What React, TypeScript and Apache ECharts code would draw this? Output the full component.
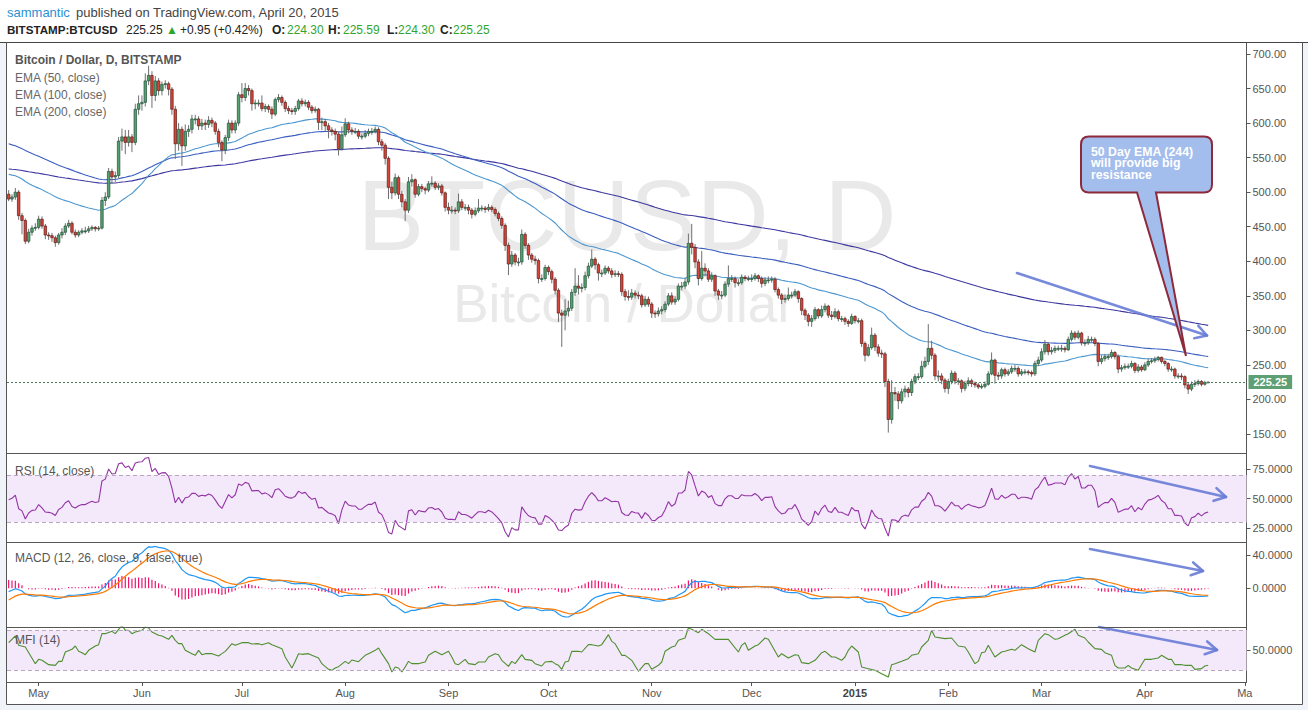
import React, { useEffect, useRef } from "react";
import * as echarts from "echarts";

const FONT = '"Liberation Sans", Arial, Helvetica, sans-serif';

// ---------- categories ----------
const startDate = "2014-04-22";
const endDate = "2015-04-20";
const missingDates = ["2015-01-06", "2015-01-07", "2015-01-08"];
const futureBars = 11;

// ---------- price data (BITSTAMP:BTCUSD, daily) ----------
const firstOpen = 497;
const closes = [
  490, 493, 500, 466, 459, 429, 442, 448, 449, 461,
  451, 438, 437, 434, 427, 438, 442, 451, 455, 442,
  438, 442, 444, 444, 447, 449, 447, 448, 488, 493,
  530, 522, 524, 574, 580, 572, 580, 572, 620, 628,
  630, 661, 669, 640, 661, 647, 656, 657, 649, 620,
  570, 591, 567, 588, 591, 606, 606, 596, 600, 598,
  604, 600, 588, 572, 561, 579, 600, 590, 600, 641,
  637, 650, 647, 628, 629, 629, 621, 624, 620, 613,
  634, 637, 630, 621, 618, 617, 621, 632, 628, 630,
  623, 618, 620, 601, 602, 596, 590, 588, 584, 563,
  583, 599, 590, 588, 588, 581, 581, 585, 588, 588,
  591, 573, 568, 549, 507, 499, 521, 497, 486, 474,
  515, 518, 497, 508, 505, 503, 512, 513, 507, 509,
  499, 478, 474, 474, 473, 486, 478, 478, 474, 468,
  473, 477, 477, 475, 478, 475, 469, 462, 452, 423,
  396, 409, 399, 399, 439, 423, 409, 403, 401, 375,
  375, 391, 385, 374, 358, 325, 322, 328, 332, 355,
  364, 361, 362, 379, 393, 403, 395, 383, 383, 390,
  386, 381, 382, 381, 356, 349, 348, 354, 351, 350,
  337, 345, 338, 325, 324, 328, 330, 338, 350, 341,
  345, 364, 364, 370, 426, 420, 399, 375, 390, 386,
  374, 379, 357, 351, 351, 367, 375, 375, 369, 369,
  377, 375, 375, 375, 379, 375, 368, 373, 373, 374,
  359, 351, 345, 346, 351, 351, 356, 346, 329, 322,
  313, 317, 330, 321, 330, 335, 322, 320, 327, 317,
  317, 313, 310, 320, 314, 314, 281, 264, 275, 293,
  276, 267, 266, 226, 171, 210, 208, 198, 211, 215,
  210, 226, 233, 233, 248, 255, 274, 264, 234, 234,
  228, 216, 226, 238, 227, 227, 216, 223, 227, 223,
  221, 218, 219, 222, 237, 257, 235, 234, 243, 237,
  240, 245, 245, 237, 240, 240, 239, 237, 252, 257,
  269, 280, 269, 271, 274, 274, 274, 272, 287, 296,
  290, 296, 282, 282, 287, 287, 281, 255, 259, 262,
  262, 268, 262, 244, 246, 248, 248, 252, 242, 247,
  243, 250, 255, 256, 258, 261, 255, 252, 244, 244,
  234, 234, 233, 221, 215, 222, 223, 226, 222, 224.3, 225.25,
];
const highs = [
  503, 497, 506, 503, 470, 462, 447, 452, 455, 466,
  465, 454, 442, 441, 437, 441, 448, 455, 460, 458,
  446, 445, 448, 450, 451, 452, 451, 451, 493, 500,
  535, 534, 530, 580, 592, 590, 590, 584, 628, 640,
  640, 672, 683, 675, 668, 665, 660, 662, 660, 652,
  625, 600, 595, 598, 597, 612, 612, 610, 606, 605,
  610, 608, 603, 592, 575, 583, 605, 604, 604, 645,
  658, 658, 655, 650, 634, 634, 640, 628, 627, 624,
  637, 642, 640, 633, 625, 622, 625, 635, 636, 634,
  633, 626, 624, 622, 608, 606, 600, 594, 592, 587,
  595, 607, 602, 594, 593, 591, 585, 590, 592, 593,
  595, 594, 577, 571, 552, 515, 527, 524, 502, 490,
  522, 526, 520, 512, 512, 508, 516, 523, 516, 513,
  512, 501, 485, 480, 478, 498, 490, 483, 482, 477,
  478, 490, 481, 480, 483, 481, 478, 472, 465, 455,
  427, 415, 412, 405, 446, 442, 426, 412, 408, 404,
  381, 395, 394, 388, 377, 361, 330, 345, 343, 360,
  390, 380, 368, 385, 398, 417, 406, 398, 388, 394,
  393, 390, 387, 386, 384, 360, 358, 360, 358, 356,
  353, 350, 349, 341, 329, 333, 335, 342, 354, 355,
  350, 368, 370, 376, 440, 454, 425, 403, 415, 397,
  390, 384, 381, 360, 357, 371, 394, 380, 378, 374,
  381, 380, 379, 381, 383, 381, 378, 377, 378, 378,
  377, 362, 354, 352, 362, 356, 360, 358, 348, 332,
  325, 322, 334, 332, 336, 339, 337, 328, 332, 330,
  321, 320, 316, 324, 322, 318, 317, 284, 280, 304,
  296, 280, 272, 269, 230, 228, 218, 212, 216, 220,
  218, 230, 237, 238, 256, 262, 309, 285, 267, 242,
  238, 231, 230, 242, 241, 231, 229, 227, 232, 230,
  226, 224, 223, 226, 241, 268, 259, 240, 246, 246,
  244, 249, 250, 248, 244, 244, 243, 242, 256, 262,
  274, 286, 283, 276, 278, 278, 279, 277, 291, 300,
  299, 300, 298, 287, 292, 291, 290, 283, 264, 266,
  266, 272, 270, 265, 250, 252, 252, 256, 254, 251,
  250, 254, 259, 260, 262, 263, 262, 257, 254, 248,
  246, 238, 238, 235, 224, 226, 228, 229, 228, 227, 225.59,
];
const lows = [
  487, 486, 489, 460, 439, 425, 426, 437, 444, 446,
  447, 432, 431, 428, 421, 424, 433, 438, 448, 439,
  434, 435, 439, 440, 441, 444, 443, 444, 446, 480,
  490, 512, 515, 520, 560, 555, 566, 558, 568, 612,
  618, 624, 655, 622, 632, 640, 640, 650, 640, 612,
  548, 560, 538, 560, 580, 585, 598, 590, 590, 590,
  593, 594, 583, 565, 545, 555, 574, 585, 585, 596,
  630, 632, 640, 618, 620, 624, 617, 616, 615, 606,
  610, 630, 625, 616, 613, 612, 612, 618, 624, 624,
  619, 614, 615, 590, 590, 588, 578, 582, 575, 553,
  560, 580, 585, 583, 584, 577, 576, 578, 581, 583,
  585, 568, 560, 540, 490, 490, 495, 490, 478, 458,
  470, 508, 492, 494, 500, 497, 500, 508, 503, 503,
  495, 472, 468, 469, 468, 470, 474, 473, 468, 462,
  465, 470, 472, 470, 472, 471, 465, 458, 447, 415,
  380, 392, 394, 393, 395, 418, 402, 398, 395, 368,
  370, 372, 380, 368, 352, 312, 276, 300, 320, 328,
  350, 352, 355, 358, 375, 390, 388, 372, 377, 380,
  382, 376, 377, 377, 350, 343, 343, 344, 346, 345,
  333, 334, 334, 318, 318, 320, 323, 326, 335, 337,
  337, 342, 358, 360, 366, 410, 390, 365, 372, 378,
  370, 370, 350, 344, 345, 348, 363, 370, 362, 364,
  366, 371, 371, 370, 372, 370, 362, 364, 368, 369,
  355, 346, 338, 340, 343, 346, 348, 340, 322, 315,
  306, 305, 314, 317, 318, 326, 318, 315, 317, 313,
  312, 308, 305, 308, 310, 310, 276, 255, 262, 272,
  270, 262, 260, 218, 152, 165, 198, 186, 194, 203,
  203, 205, 222, 228, 230, 245, 250, 258, 228, 226,
  222, 210, 208, 222, 222, 221, 210, 212, 219, 218,
  217, 215, 215, 216, 220, 235, 223, 228, 230, 233,
  234, 237, 240, 233, 234, 236, 235, 233, 234, 248,
  254, 265, 264, 265, 267, 270, 269, 268, 270, 284,
  286, 287, 278, 277, 279, 283, 277, 248, 251, 255,
  257, 259, 258, 238, 240, 243, 244, 245, 238, 239,
  240, 241, 247, 252, 253, 255, 252, 248, 240, 240,
  230, 230, 228, 216, 208, 212, 218, 220, 219, 220, 224.3,
];

// MFI (14): [bar index, value]
const mfiSamples = [
  [0, 61.5], [2, 71.5], [3, 57.5], [5, 55], [8, 30], [9, 36.5], [10, 35], [12, 28.5], [14, 27.5], [15, 33.5],
  [16, 33.5], [17, 47.5], [19, 51.5], [20, 56.5], [21, 48.5], [22, 46.5], [23, 43.5], [24, 50], [26, 56.5], [27, 58.5],
  [28, 75], [29, 75], [31, 78.5], [32, 75], [33, 81.5], [34, 87.5], [35, 80], [36, 80], [37, 75], [38, 77.5],
  [40, 80], [41, 85], [42, 83.5], [43, 77.5], [45, 72.5], [46, 71.5], [48, 66.5], [49, 72.5], [50, 65], [51, 60],
  [52, 60], [53, 50], [55, 45], [56, 42.5], [57, 50], [58, 43.5], [59, 45], [61, 45], [63, 41.5], [64, 45],
  [65, 48.5], [66, 54], [67, 60], [68, 57.5], [70, 61.5], [72, 61.5], [73, 59.5], [75, 60], [76, 58.5], [78, 61.5],
  [79, 58.5], [80, 56.5], [82, 52.5], [83, 40], [85, 23.5], [86, 33.5], [87, 45], [88, 44], [90, 45], [91, 42.5],
  [93, 38.5], [94, 30], [96, 21.5], [97, 20], [98, 23.5], [99, 25.5], [101, 33.5], [102, 30], [103, 35.5], [105, 33],
  [107, 42.5], [108, 45], [110, 50], [111, 53.5], [112, 45], [114, 30], [115, 17.5], [116, 25], [117, 23.5], [118, 17.5],
  [119, 25], [120, 33.5], [121, 30], [123, 30], [124, 31.5], [125, 32.5], [126, 42.5], [128, 48.5], [130, 43.5], [132, 48.5],
  [133, 40], [134, 30], [135, 28.5], [137, 36.5], [138, 30], [140, 28.5], [141, 32.5], [143, 32.5], [144, 40], [146, 45],
  [147, 43.5], [148, 35], [150, 26], [151, 33.5], [152, 30], [154, 43.5], [155, 36.5], [157, 35], [158, 30], [160, 26.5],
  [161, 32.5], [163, 33.5], [164, 30], [165, 27.5], [166, 21.5], [167, 32.5], [168, 33.5], [169, 48.5], [171, 48.5], [172, 47.5],
  [174, 58.5], [175, 58.5], [177, 56.5], [178, 58.5], [180, 73.5], [181, 63.5], [182, 60], [184, 42.5], [185, 42.5], [187, 35],
  [189, 18.5], [191, 30], [192, 30], [193, 21.5], [195, 27.5], [196, 32.5], [197, 48.5], [199, 55], [200, 56.5], [201, 65],
  [203, 68.5], [204, 83.5], [205, 81.5], [207, 76.5], [208, 81.5], [210, 75], [212, 66.5], [214, 66.5], [216, 66.5], [219, 47.5],
  [220, 57.5], [221, 61.5], [222, 50], [224, 56.5], [225, 58.5], [227, 68.5], [228, 66.5], [231, 40], [232, 45], [234, 38.5],
  [236, 43.5], [237, 42.5], [238, 31.5], [240, 30], [242, 35], [244, 46.5], [245, 48.5], [247, 40], [248, 40], [250, 35],
  [251, 40], [252, 50], [253, 56.5], [255, 47.5], [256, 25], [258, 22.5], [260, 20], [262, 15], [264, 10], [265, 28.5],
  [266, 30], [268, 33.5], [270, 37.5], [271, 42.5], [273, 45], [274, 55], [276, 65], [277, 80], [278, 70], [281, 67.5],
  [283, 68.5], [285, 56.5], [287, 55], [288, 47.5], [290, 30], [291, 33.5], [292, 46.5], [293, 47.5], [294, 57.5], [295, 48.5],
  [296, 40], [298, 47.5], [299, 48.5], [301, 51.5], [302, 50], [304, 58.5], [306, 52.5], [308, 47.5], [309, 65], [311, 75],
  [312, 73.5], [314, 66.5], [315, 67.5], [317, 72.5], [318, 75], [320, 81.5], [321, 72.5], [323, 68.5], [324, 62.5], [326, 52.5],
  [328, 51.5], [329, 46.5], [331, 42.5], [332, 27.5], [333, 23.5], [335, 23.5], [336, 27.5], [337, 23.5], [339, 20], [340, 28.5],
  [341, 36.5], [343, 36.5], [345, 38.5], [346, 42.5], [348, 36.5], [349, 36.5], [350, 28.5], [352, 28.5], [353, 27.5], [355, 27.5],
  [356, 21.5], [358, 22.5], [359, 26.5], [360, 27.5],
];

// indicator starting states at the first bar
const ema50Seed = 526;
const ema100Seed = 570;
const ema200Seed = 533.6;
const rsiSeedGain = 5;
const rsiSeedLoss = 5.2;
const macdFastSeed = 476;
const macdSlowSeed = 480;
const macdSignalSeed = -14;

// ---------- ticks ----------
const monthTicks = [
  ["2014-05-01", "May"], ["2014-06-01", "Jun"], ["2014-07-01", "Jul"], ["2014-08-01", "Aug"],
  ["2014-09-01", "Sep"], ["2014-10-01", "Oct"], ["2014-11-01", "Nov"], ["2014-12-01", "Dec"],
  ["2015-01-01", "2015"], ["2015-02-01", "Feb"], ["2015-03-01", "Mar"], ["2015-04-01", "Apr"],
  ["2015-05-01", "Ma"],
];
const priceTicks = [150, 200, 250, 300, 350, 400, 450, 500, 550, 600, 650, 700];
const rsiTicks = [25, 50, 75];
const macdTicks = [0, 40];
const mfiTicks = [50];

// ---------- annotations (drawings, page pixels) ----------
const trendArrows = [
  { from: [1017, 273], to: [1207, 335.5] },
  { from: [1090, 466], to: [1226, 497] },
  { from: [1090, 549], to: [1203, 571] },
  { from: [1099, 627], to: [1217, 650] },
];
const calloutLines = ["50 Day EMA (244)", "will provide big", "resistance"];
const calloutPath =
  "M1089 136.5 L1204 136.5 Q1212 136.5 1212 144.5 L1212 184.5 Q1212 192.5 1204 192.5 L1156 192.5 L1186 356 L1137 192.5 L1089 192.5 Q1081 192.5 1081 184.5 L1081 144.5 Q1081 136.5 1089 136.5 Z";
echarts.graphic.registerShape("callout", echarts.graphic.extendPath(calloutPath, {}));

// ---------- helpers ----------
function buildDates() {
  const out: string[] = [];
  const d = new Date(startDate + "T00:00:00Z");
  const end = new Date(endDate + "T00:00:00Z").getTime();
  while (d.getTime() <= end) {
    const s = d.toISOString().slice(0, 10);
    if (missingDates.indexOf(s) < 0) out.push(s);
    d.setUTCDate(d.getUTCDate() + 1);
  }
  for (let i = 0; i < futureBars; i++) {
    d.setUTCDate(d.getUTCDate() + (i === 0 ? 0 : 1));
    out.push(d.toISOString().slice(0, 10));
  }
  return out;
}

function ema(values: number[], period: number, seed: number) {
  const k = 2 / (period + 1);
  const out: number[] = [];
  let e = seed;
  values.forEach((v, i) => {
    if (i > 0) e = v * k + e * (1 - k);
    out.push(+e.toFixed(3));
  });
  return out;
}

function rsi(values: number[]) {
  let ag = rsiSeedGain;
  let al = rsiSeedLoss;
  const out = [100 - 100 / (1 + ag / al)];
  for (let i = 1; i < values.length; i++) {
    const ch = values[i] - values[i - 1];
    ag = (ag * 13 + Math.max(ch, 0)) / 14;
    al = (al * 13 + Math.max(-ch, 0)) / 14;
    out.push(al === 0 ? 100 : 100 - 100 / (1 + ag / al));
  }
  return out.map((v) => +v.toFixed(2));
}

function arrowElements(a: any) {
  const [x1, y1] = a.from;
  const [x2, y2] = a.to;
  const ang = Math.atan2(y2 - y1, x2 - x1);
  const len = 13;
  const spread = (30 * Math.PI) / 180;
  const p1 = [x2 - len * Math.cos(ang - spread), y2 - len * Math.sin(ang - spread)];
  const p2 = [x2 - len * Math.cos(ang + spread), y2 - len * Math.sin(ang + spread)];
  const style = { stroke: "rgba(104,124,214,0.9)", lineWidth: 2.6, lineCap: "round", lineJoin: "round", fill: null };
  return [
    { type: "line", z: 80, shape: { x1, y1, x2, y2 }, style },
    { type: "polyline", z: 80, shape: { points: [p1, [x2, y2], p2] }, style },
  ];
}

function text(x: number, y: number, t: string, extra: any = {}) {
  return {
    type: "text",
    x,
    y,
    z: 90,
    style: {
      text: t,
      fontFamily: FONT,
      fontSize: 12,
      fill: "#555",
      verticalAlign: "middle",
      align: "left",
      ...extra,
    },
  };
}

function buildOption() {
  const cats = buildDates();
  const n = closes.length;
  const opens = closes.map((c, i) => (i === 0 ? firstOpen : closes[i - 1]));
  const candleData = closes.map((c, i) => [i, opens[i], c, lows[i], highs[i]]);
  const e50 = ema(closes, 50, ema50Seed);
  const e100 = ema(closes, 100, ema100Seed);
  const e200 = ema(closes, 200, ema200Seed);
  const rsiVals = rsi(closes);
  const fast = ema(closes, 12, macdFastSeed);
  const slow = ema(closes, 26, macdSlowSeed);
  const macd = fast.map((f, i) => +(f - slow[i]).toFixed(3));
  const signal = ema(macd, 9, macdSignalSeed);
  const hist = macd.map((m, i) => +(m - signal[i]).toFixed(3));
  const last = closes[n - 1];

  const tickIdx: Record<number, string> = {};
  monthTicks.forEach(([d, l]) => {
    const idx = cats.indexOf(d);
    if (idx >= 0) tickIdx[idx] = l;
  });
  const isTick = (i: number) => tickIdx[i] !== undefined;

  const grids = [
    { left: 7, right: 61.5, top: 43, height: 410 },
    { left: 7, right: 61.5, top: 453, height: 89 },
    { left: 7, right: 61.5, top: 542, height: 85 },
    { left: 7, right: 61.5, top: 627, height: 55 },
  ];
  const xAxis = grids.map((g, gi) => ({
    type: "category",
    gridIndex: gi,
    data: cats,
    boundaryGap: true,
    axisLine: { show: gi === 3, lineStyle: { color: "#555", width: 1 } },
    axisTick: {
      show: gi === 3,
      interval: (i: number) => isTick(i),
      alignWithLabel: true,
      length: 4,
      lineStyle: { color: "#555" },
    },
    axisLabel: {
      show: gi === 3,
      interval: (i: number) => isTick(i),
      formatter: (v: string, i: number) => {
        const l = tickIdx[i] || "";
        return l === "2015" ? "{b|2015}" : l;
      },
      color: "#555",
      fontSize: 11,
      fontFamily: FONT,
      margin: 5,
      rich: { b: { fontWeight: "bold", fontSize: 11, fontFamily: FONT, color: "#444" } },
    },
    splitLine: { show: false },
  }));
  const yDef = (gi: number, min: number, max: number, ticks: number[], digits: number) => ({
    type: "value",
    gridIndex: gi,
    position: "right",
    min,
    max,
    axisLine: { show: true, lineStyle: { color: "#555", width: 1 } },
    axisTick: { show: true, customValues: ticks, length: 4, lineStyle: { color: "#555" } },
    axisLabel: {
      customValues: ticks,
      formatter: (v: number) => v.toFixed(digits),
      color: "#555",
      fontSize: 11,
      fontFamily: FONT,
      margin: 6,
    },
    splitLine: { show: false },
  });
  const yAxis = [
    yDef(0, 122.5, 715.9, priceTicks, 2),
    yDef(1, 13.1, 88.6, rsiTicks, 4),
    yDef(2, -46.5, 55.6, macdTicks, 4),
    yDef(3, 2.5, 85, mfiTicks, 4),
  ];

  const band = (lo: number, hi: number) => ({
    markArea: { silent: true, itemStyle: { color: "#f4e8fb" }, data: [[{ yAxis: lo }, { yAxis: hi }]] },
    markLine: {
      silent: true,
      symbol: ["none", "none"],
      label: { show: false },
      lineStyle: { type: [4, 3], color: "#b9a6bf", width: 1 },
      data: [{ yAxis: lo }, { yAxis: hi }],
    },
  });

  const series: any[] = [
    {
      type: "line",
      name: "EMA200",
      xAxisIndex: 0,
      yAxisIndex: 0,
      data: e200,
      showSymbol: false,
      symbol: "none",
      lineStyle: { color: "#3c37a0", width: 1.1 },
      z: 2,
      silent: true,
    },
    {
      type: "line",
      name: "EMA100",
      xAxisIndex: 0,
      yAxisIndex: 0,
      data: e100,
      symbol: "none",
      lineStyle: { color: "#3a5ec0", width: 1.1 },
      z: 2,
      silent: true,
    },
    {
      type: "line",
      name: "EMA50",
      xAxisIndex: 0,
      yAxisIndex: 0,
      data: e50,
      symbol: "none",
      lineStyle: { color: "#4c97cf", width: 1.1 },
      z: 2,
      silent: true,
      markLine: {
        silent: true,
        symbol: ["none", "none"],
        lineStyle: { type: [2, 2], color: "#4a7d5d", width: 1 },
        label: {
          show: true,
          position: "end",
          distance: 2,
          formatter: last.toFixed(2),
          backgroundColor: "#5f9f74",
          color: "#fff",
          fontSize: 11,
          fontWeight: "bold",
          fontFamily: FONT,
          padding: [2, 5, 1, 5],
        },
        data: [{ yAxis: last }],
      },
    },
    {
      type: "custom",
      name: "BTCUSD",
      xAxisIndex: 0,
      yAxisIndex: 0,
      data: candleData,
      encode: { x: 0, y: [1, 2, 3, 4] },
      z: 3,
      silent: true,
      renderItem: (params: any, api: any) => {
        const x = api.value(0);
        const o = api.value(1);
        const c = api.value(2);
        const l = api.value(3);
        const h = api.value(4);
        const pO = api.coord([x, o]);
        const pC = api.coord([x, c]);
        const pL = api.coord([x, l]);
        const pH = api.coord([x, h]);
        const up = c >= o;
        const w = 2.5;
        const top = Math.min(pO[1], pC[1]);
        const bot = Math.max(pO[1], pC[1]);
        return {
          type: "group",
          children: [
            {
              type: "line",
              shape: { x1: pH[0], y1: pH[1], x2: pL[0], y2: pL[1] },
              style: { stroke: "#707072", lineWidth: 1 },
            },
            {
              type: "rect",
              shape: { x: pO[0] - w / 2, y: top, width: w, height: Math.max(bot - top, 0.9) },
              style: {
                fill: up ? "#55a06f" : "#d6453b",
                stroke: up ? "#23523a" : "#5e1b15",
                lineWidth: 0.7,
              },
            },
          ],
        };
      },
    },
    {
      type: "line",
      name: "RSI",
      xAxisIndex: 1,
      yAxisIndex: 1,
      data: rsiVals,
      symbol: "none",
      lineStyle: { color: "#9334a4", width: 1.1 },
      silent: true,
      ...band(30, 70),
    },
    {
      type: "bar",
      name: "Histogram",
      xAxisIndex: 2,
      yAxisIndex: 2,
      data: hist,
      barWidth: 1.2,
      itemStyle: { color: "#f0136d" },
      silent: true,
    },
    {
      type: "line",
      name: "MACD",
      xAxisIndex: 2,
      yAxisIndex: 2,
      data: macd,
      symbol: "none",
      lineStyle: { color: "#2196f3", width: 1.2 },
      silent: true,
    },
    {
      type: "line",
      name: "Signal",
      xAxisIndex: 2,
      yAxisIndex: 2,
      data: signal,
      symbol: "none",
      lineStyle: { color: "#ff7a00", width: 1.2 },
      silent: true,
    },
    {
      type: "line",
      name: "MFI",
      xAxisIndex: 3,
      yAxisIndex: 3,
      data: mfiSamples,
      symbol: "none",
      lineStyle: { color: "#4e8f2e", width: 1.1 },
      silent: true,
      ...band(20, 80),
    },
  ];

  const lineEl = (x1: number, y1: number, x2: number, y2: number, color = "#555") => ({
    type: "line",
    z: 95,
    shape: { x1, y1, x2, y2 },
    style: { stroke: color, lineWidth: 1 },
  });

  const graphic: any[] = [
    // outer frame
    { type: "rect", z: 0, shape: { x: 0, y: 43, width: 6.5, height: 667 }, style: { fill: "#f0f3f7" } },
    { type: "rect", z: 0, shape: { x: 1303, y: 43, width: 5, height: 667 }, style: { fill: "#f0f3f7" } },
    { type: "rect", z: 0, shape: { x: 0, y: 705, width: 1308, height: 5 }, style: { fill: "#f0f3f7" } },
    // watermark
    {
      type: "text",
      z: 0,
      x: 627,
      y: 215,
      style: { text: "BTCUSD, D", fontFamily: FONT, fontSize: 100, fill: "#e9e9e9", align: "center", verticalAlign: "middle" },
    },
    {
      type: "text",
      z: 0,
      x: 624,
      y: 303,
      style: { text: "Bitcoin / Dollar", fontFamily: FONT, fontSize: 53, fill: "#e9e9e9", align: "center", verticalAlign: "middle" },
    },
    // frame lines
    lineEl(0, 42.5, 1308, 42.5, "#444"),
    lineEl(6.5, 42.5, 6.5, 704.5),
    lineEl(1302.5, 42.5, 1302.5, 704.5),
    lineEl(6.5, 704.5, 1302.5, 704.5),
    lineEl(6.5, 453.5, 1246.5, 453.5),
    lineEl(6.5, 542.5, 1246.5, 542.5),
    lineEl(6.5, 627.5, 1246.5, 627.5),
    // header
    text(7, 12, "sammantic", { fill: "#2b8fd3", fontSize: 13 }),
    text(76, 12, "published on TradingView.com, April 20, 2015", { fill: "#444", fontSize: 13 }),
    text(7, 29.5, "BITSTAMP:BTCUSD", { fill: "#222", fontWeight: "bold", fontSize: 11.6 }),
    text(126, 29.5, "225.25", { fill: "#222" }),
    text(166, 29.5, "\u25B2", { fill: "#2fa52f", fontSize: 12 }),
    text(180, 29.5, "+0.95 (+0.42%)", { fill: "#222" }),
    text(272, 29.5, "O:", { fill: "#222", fontWeight: "bold" }),
    text(287, 29.5, "224.30", { fill: "#2fa52f" }),
    text(328, 29.5, "H:", { fill: "#222", fontWeight: "bold" }),
    text(343, 29.5, "225.59", { fill: "#2fa52f" }),
    text(387, 29.5, "L:", { fill: "#222", fontWeight: "bold" }),
    text(398, 29.5, "224.30", { fill: "#2fa52f" }),
    text(440, 29.5, "C:", { fill: "#222", fontWeight: "bold" }),
    text(453, 29.5, "225.25", { fill: "#2fa52f" }),
    // legends
    text(15, 60, "Bitcoin / Dollar, D, BITSTAMP", { fontWeight: "bold", fill: "#555" }),
    text(15, 77.5, "EMA (50, close)", { fill: "#666" }),
    text(15, 94.5, "EMA (100, close)", { fill: "#666" }),
    text(15, 111.5, "EMA (200, close)", { fill: "#666" }),
    text(15, 470.5, "RSI (14, close)", { fill: "#555" }),
    text(15, 558, "MACD (12, 26, close, 9, false, true)", { fill: "#555" }),
    text(15, 639.5, "MFI (14)", { fill: "#555" }),
    // callout
    { type: "callout", x: 0, y: 0, z: 85, style: { fill: "#a3bdec", stroke: "#8d2b3c", lineWidth: 2 } },
  ];
  calloutLines.forEach((l, i) => {
    graphic.push(text(1091, 151.5 + i * 11.6, l, { fill: "#fff", fontWeight: "bold", fontSize: 12.3 }));
  });
  trendArrows.forEach((a) => arrowElements(a).forEach((e) => graphic.push(e)));

  return {
    animation: false,
    backgroundColor: "#ffffff",
    grid: grids,
    xAxis,
    yAxis,
    series,
    graphic,
  };
}

export default function App() {
  const ref = useRef<HTMLDivElement>(null);
  useEffect(() => {
    if (!ref.current) return;
    const chart = echarts.init(ref.current, undefined, { renderer: "svg" });
    chart.setOption(buildOption() as any);
    return () => chart.dispose();
  }, []);
  return <div ref={ref} style={{ position: "fixed", left: 0, top: 0, width: 1308, height: 710 }} />;
}
